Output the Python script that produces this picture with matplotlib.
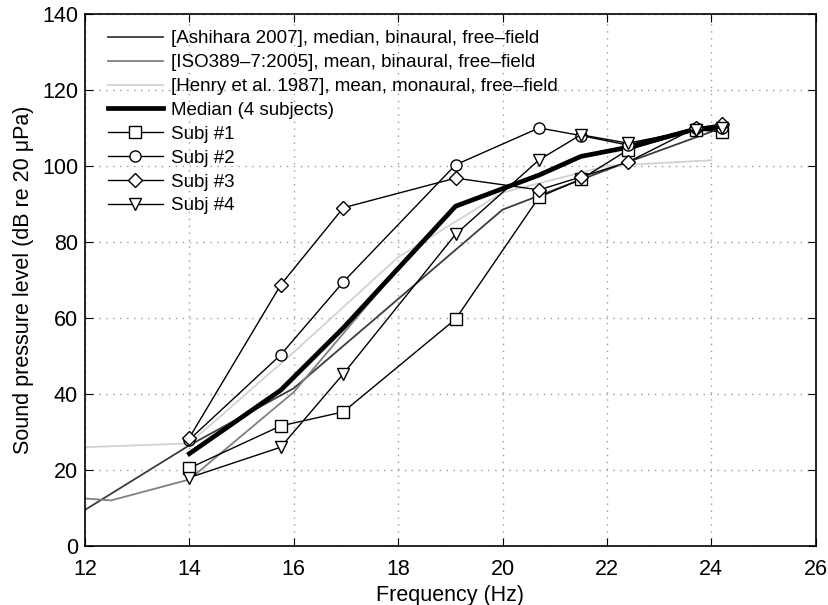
import matplotlib
matplotlib.use("Agg")
import matplotlib.pyplot as plt

plt.rcParams["font.family"] = ["Liberation Sans", "DejaVu Sans"]

# reference curves
ash_f = [12, 14, 16, 18, 20, 22, 24]
ash_spl = [9.5, 26.5, 41.5, 65, 88.5, 99, 109]

iso_f = [12, 12.5, 14, 16, 18]
iso_spl = [12.5, 12, 17.5, 40.5, 73]

henry_f = [12, 14, 16, 18, 20, 22, 24]
henry_spl = [26, 27, 51, 76, 93, 100, 101.5]

# subject thresholds
freqs = [14, 15.75, 16.95, 19.1, 20.7, 21.5, 22.4, 23.7, 24.2]
subj1 = [20.5, 31.6, 35.3, 59.7, 91.8, 96.5, 104.2, 109.5, 109]
subj2 = [28, 50.3, 69.5, 100.3, 110, 108, 105.5, 110, 110]
subj3 = [28.5, 68.7, 89, 96.8, 93.7, 97.1, 101, 110, 111]
subj4 = [18, 26, 45.3, 82, 101.6, 108.2, 106, 109.5, 110]
median = [24.3, 41, 57.4, 89.4, 97.6, 102.5, 104.9, 109.7, 110]

fig, ax = plt.subplots(figsize=(8.29, 6.05), dpi=100)
fig.subplots_adjust(left=0.1025, right=0.984, bottom=0.0975, top=0.977)

ax.plot(ash_f, ash_spl, color="#3c3c3c", lw=1.3,
        label="[Ashihara 2007], median, binaural, free\u2013field")
ax.plot(iso_f, iso_spl, color="#808080", lw=1.3,
        label="[ISO389\u20137:2005], mean, binaural, free\u2013field")
ax.plot(henry_f, henry_spl, color="#d2d2d2", lw=1.3,
        label="[Henry et al. 1987], mean, monaural, free\u2013field")
ax.plot(freqs, median, color="black", lw=3.4, label="Median (4 subjects)")

subjects = [(subj1, "s", "Subj #1"), (subj2, "o", "Subj #2"),
            (subj3, "D", "Subj #3"), (subj4, "v", "Subj #4")]
for vals, mk, name in subjects:
    ax.plot(freqs, vals, color="black", lw=1.0, marker=mk,
            ms=8 if mk != "D" else 7.5, mfc="white", mec="black", mew=1.0,
            label=name)

ax.set_xlim(12, 26)
ax.set_ylim(0, 140)
ax.set_xticks(range(12, 27, 2))
ax.set_yticks(range(0, 141, 20))
ax.grid(True, linestyle=(0, (1, 4)), color="#999999", lw=1.0)
ax.tick_params(direction="in", top=True, right=True, labelsize=15.5, length=6)
ax.tick_params(axis="x", pad=9)
ax.tick_params(axis="y", pad=5)
for sp in ax.spines.values():
    sp.set_linewidth(1.2)

ax.set_xlabel("Frequency (Hz)", fontsize=15.5, labelpad=4)
ax.set_ylabel("Sound pressure level (dB re 20 \u03bcPa)", fontsize=15.5, labelpad=6)

leg = ax.legend(loc="upper left", fontsize=13.5, frameon=False,
                handlelength=2.95, handletextpad=0.43, labelspacing=0.36,
                borderaxespad=0.3, bbox_to_anchor=(0.013, 0.994))

fig.savefig("out.png", dpi=100)
